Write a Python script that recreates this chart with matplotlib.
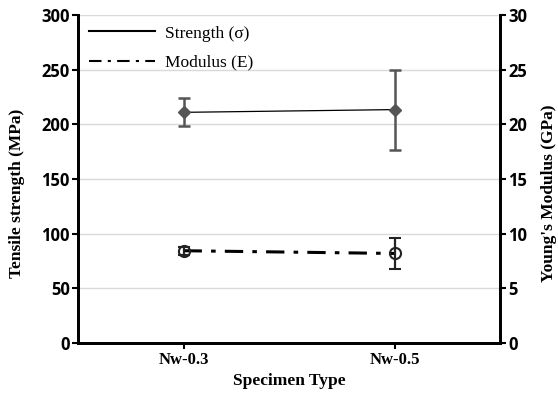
import numpy as np
import matplotlib
matplotlib.use('Agg')
import matplotlib.pyplot as plt

# Datos
especimenes = ['Nw-0.3', 'Nw-0.5']
resistencia = [211, 213.5]
resistencia_err = [12.8, 36.5]
modulo = [8.45, 8.2]
modulo_err = [0.35, 1.4]

fuente_ejes = {'family': 'Liberation Serif', 'weight': 'bold', 'size': 12.5}

fig = plt.figure(figsize=(5.58, 3.94), dpi=100)
ax = fig.add_axes([0.14, 0.129, 0.756, 0.833])
ax2 = ax.twinx()

x = np.arange(len(especimenes))

# Resistencia a la tension
ax.plot(x, resistencia, color='black', lw=0.9, zorder=3)
ax.errorbar(x, resistencia, yerr=resistencia_err, fmt='D', color='#555555',
            ms=6, elinewidth=1.8, capsize=4, capthick=1.8, zorder=4)

# Modulo de Young
ax2.plot(x, modulo, color='black', lw=2.2, ls=(0, (6, 3, 1.5, 3)), zorder=3)
ax2.errorbar(x, modulo, yerr=modulo_err, fmt='o', color='#222222', mfc='none',
             mec='#222222', mew=1.5, ms=8, elinewidth=1.6, capsize=4, capthick=1.6, zorder=4)

ax.set_xlim(-0.5, 1.5)
ax.set_ylim(0, 300)
ax2.set_ylim(0, 30)
ax.set_yticks(np.arange(0, 301, 50))
ax2.set_yticks(np.arange(0, 31, 5))
ax.set_xticks(x)
ax.set_xticklabels(especimenes, fontfamily='Liberation Serif', fontweight='bold', fontsize=12)

ax.grid(axis='y', color='#d9d9d9', lw=1)
ax.set_axisbelow(True)

for a in (ax, ax2):
    a.spines['top'].set_visible(False)
    for s in ('left', 'right', 'bottom'):
        a.spines[s].set_linewidth(2)
    a.tick_params(width=1.5, length=4, direction='out', pad=2)
for lab in ax.get_yticklabels() + ax2.get_yticklabels():
    lab.set_fontfamily('Open Sans')
    lab.set_fontweight('bold')
    lab.set_fontsize(12)

ax.set_ylabel('Tensile strength (MPa)', fontdict=fuente_ejes)
ax2.set_ylabel("Young's Modulus (GPa)", fontdict=fuente_ejes)
ax.yaxis.set_label_coords(-0.125, 0.455)
ax2.yaxis.set_label_coords(1.097, 0.457)
ax.set_xlabel('Specimen Type', fontdict=fuente_ejes, labelpad=4)

# Leyenda
h1 = plt.Line2D([], [], color='black', lw=1.5)
h2 = plt.Line2D([], [], color='black', lw=1.5, ls=(0, (6, 3, 1.5, 3)))
ax.legend([h1, h2], ['Strength (σ)', 'Modulus (E)'], loc='upper left', frameon=False,
          prop={'family': 'Liberation Serif', 'size': 12.5}, handlelength=3.8,
          borderaxespad=0.2, labelspacing=0.75, handletextpad=0.6)

plt.savefig('out.png', dpi=100)
